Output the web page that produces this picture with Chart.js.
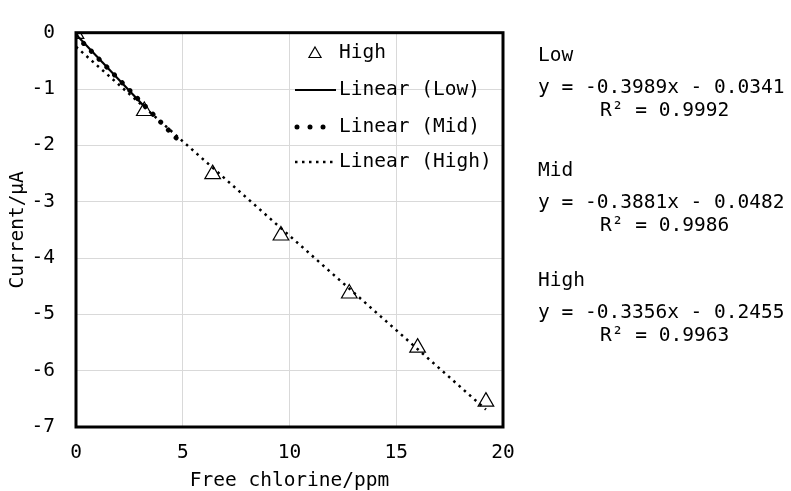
<!DOCTYPE html>
<html>
<head>
<meta charset="utf-8">
<script src="https://cdn.jsdelivr.net/npm/chart.js@4.4.1/dist/chart.umd.min.js"></script>
<style>
  html, body { margin: 0; padding: 0; background: #fff; }
  #wrap { position: relative; width: 791px; height: 491px; }
  canvas { position: absolute; left: 0; top: 0; }
  .eq { position: absolute; font-family: "DejaVu Sans Mono", monospace; font-size: 19.5px; color: #000; white-space: pre; line-height: 1; }
</style>
</head>
<body>
<div id="wrap">
  <canvas id="c" width="791" height="491"></canvas>
</div>
<script>
// ---- data ----
const highX = [0, 3.2, 6.4, 9.6, 12.8, 16, 19.2];
const highY = [-0.02, -1.39, -2.51, -3.60, -4.63, -5.59, -6.55];

// trendline end points
const lowLineX = [0, 3.2];
const lowLineY = [-0.03, -1.31];
const midLineX = [0, 4.8];
const midLineY = [-0.05, -1.91];
const highLineX = [0, 19.2];
const highLineY = [-0.25, -6.69];

const xTicks = [0, 5, 10, 15, 20];
const yTicks = [0, -1, -2, -3, -4, -5, -6, -7];

const legendLabels = ["High", "Linear (Low)", "Linear (Mid)", "Linear (High)"];
const eqNames = ["Low", "Mid", "High"];
const eqLines = ["y = -0.3989x - 0.0341", "y = -0.3881x - 0.0482", "y = -0.3356x - 0.2455"];
const r2Lines = ["R² = 0.9992", "R² = 0.9986", "R² = 0.9963"];

const FONT = '"DejaVu Sans Mono", monospace';
const pts = (xs, ys) => xs.map((x, i) => ({x: x, y: ys[i]}));

const styles = {
  low:  {borderWidth: 2.2, borderDash: [], cap: 'butt'},
  mid:  {borderWidth: 5, borderDash: [0.01, 11], cap: 'round'},
  high: {borderWidth: 2.5, borderDash: [2.5, 4.5], cap: 'butt'}
};

const boxPlugin = {
  id: 'box',
  beforeDatasetsDraw(chart) {
    const {ctx, chartArea: a} = chart;
    ctx.save();
    ctx.strokeStyle = '#000';
    ctx.lineWidth = 3;
    ctx.strokeRect(a.left, a.top, a.right - a.left, a.bottom - a.top);
    ctx.restore();
  }
};

const legendPlugin = {
  id: 'insideLegend',
  afterDraw(chart) {
    const ctx = chart.ctx;
    ctx.save();
    ctx.font = '19.5px ' + FONT;
    ctx.fillStyle = '#000';
    ctx.textBaseline = 'middle';
    ctx.textAlign = 'left';
    const textX = 339;
    const rows = [53, 90, 127, 162];
    // triangle
    ctx.strokeStyle = '#000';
    ctx.lineWidth = 1.2;
    ctx.beginPath();
    const cx = 315, cy = rows[0] + 1, r = 7;
    ctx.moveTo(cx, cy - r);
    ctx.lineTo(cx + r * Math.sin(Math.PI * 2 / 3), cy - r * Math.cos(Math.PI * 2 / 3));
    ctx.lineTo(cx - r * Math.sin(Math.PI * 2 / 3), cy - r * Math.cos(Math.PI * 2 / 3));
    ctx.closePath();
    ctx.stroke();
    ctx.fillText(legendLabels[0], textX, rows[0]);
    const keys = ['low', 'mid', 'high'];
    keys.forEach((k, i) => {
      const s = styles[k];
      const y = rows[i + 1];
      ctx.beginPath();
      ctx.lineWidth = s.borderWidth;
      ctx.setLineDash(k === 'mid' ? [0.01, 13] : s.borderDash);
      ctx.lineCap = s.cap;
      const x0 = k === 'mid' ? 297 : 295;
      const x1 = k === 'mid' ? 324 : 336;
      ctx.moveTo(x0, y);
      ctx.lineTo(x1, y);
      ctx.stroke();
      ctx.setLineDash([]);
      ctx.fillText(legendLabels[i + 1], textX, y);
    });
    ctx.restore();
  }
};

new Chart(document.getElementById('c'), {
  type: 'scatter',
  data: {
    datasets: [
      {
        label: 'High',
        data: pts(highX, highY),
        pointStyle: 'triangle',
        pointRadius: 9,
        pointBorderWidth: 1.2,
        pointBorderColor: '#000',
        pointBackgroundColor: 'rgba(0,0,0,0)',
        showLine: false,
        order: 0
      },
      {
        label: 'Linear (Low)',
        data: pts(lowLineX, lowLineY),
        showLine: true,
        pointRadius: 0,
        borderColor: '#000',
        borderWidth: styles.low.borderWidth,
        borderDash: styles.low.borderDash,
        borderCapStyle: styles.low.cap,
        order: 3
      },
      {
        label: 'Linear (Mid)',
        data: pts(midLineX, midLineY),
        showLine: true,
        pointRadius: 0,
        borderColor: '#000',
        borderWidth: styles.mid.borderWidth,
        borderDash: styles.mid.borderDash,
        borderCapStyle: styles.mid.cap,
        order: 2
      },
      {
        label: 'Linear (High)',
        data: pts(highLineX, highLineY),
        showLine: true,
        pointRadius: 0,
        borderColor: '#000',
        borderWidth: styles.high.borderWidth,
        borderDash: styles.high.borderDash,
        borderCapStyle: styles.high.cap,
        order: 1
      }
    ]
  },
  options: {
    responsive: false,
    animation: false,
    events: [],
    layout: { padding: { left: 0, top: 20, right: 288, bottom: 0 } },
    plugins: { legend: { display: false }, tooltip: { enabled: false } },
    scales: {
      x: {
        type: 'linear',
        min: 0, max: 20,
        afterBuildTicks(scale) { scale.ticks = xTicks.map(v => ({value: v})); },
        afterFit(scale) { scale.height = 64; },
        ticks: { font: { family: FONT, size: 19.5 }, color: '#000', padding: 14, maxRotation: 0 },
        grid: { color: '#d9d9d9', lineWidth: 1, drawTicks: false },
        border: { display: false },
        title: { display: true, text: 'Free chlorine/ppm', color: '#000', font: { family: FONT, size: 19.5, lineHeight: 1 }, padding: { top: 0, bottom: 0 } }
      },
      y: {
        type: 'linear',
        min: -7, max: 0,
        afterBuildTicks(scale) { scale.ticks = yTicks.map(v => ({value: v})); },
        afterFit(scale) { scale.width = 76; },
        ticks: { font: { family: FONT, size: 19.5 }, color: '#000', padding: 21 },
        grid: { color: '#d9d9d9', lineWidth: 1, drawTicks: false },
        border: { display: false },
        title: { display: true, text: 'Current/μA', color: '#000', font: { family: FONT, size: 19.5, lineHeight: 1 }, padding: { top: 8, bottom: 0 } }
      }
    }
  },
  plugins: [boxPlugin, legendPlugin]
});

// equation annotations
const wrap = document.getElementById('wrap');
const nameY = [45, 160, 270];
eqNames.forEach((n, i) => {
  const a = document.createElement('div');
  a.className = 'eq'; a.textContent = n;
  a.style.left = '538px'; a.style.top = (nameY[i]) + 'px';
  wrap.appendChild(a);
  const b = document.createElement('div');
  b.className = 'eq'; b.textContent = eqLines[i];
  b.style.left = '538px'; b.style.top = (nameY[i] + 32) + 'px';
  wrap.appendChild(b);
  const c = document.createElement('div');
  c.className = 'eq'; c.textContent = r2Lines[i];
  c.style.left = '600px'; c.style.top = (nameY[i] + 55) + 'px';
  wrap.appendChild(c);
});
</script>
</body>
</html>
